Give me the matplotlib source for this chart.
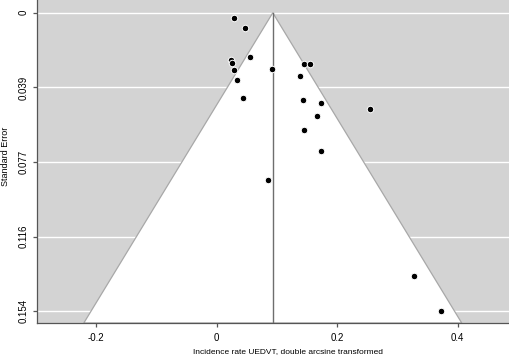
import matplotlib
matplotlib.use("Agg")
import matplotlib.pyplot as plt
import numpy as np

# Data
estimate = 0.0933
yi = [0.0296, 0.0478, 0.0551, 0.0241, 0.0257, 0.0296, 0.0346, 0.0440,
      0.0927, 0.1452, 0.1547, 0.1390, 0.1430, 0.1735, 0.1668, 0.1452,
      0.1730, 0.2553, 0.0860, 0.3283, 0.3726]
sei = [0.0029, 0.0081, 0.0227, 0.0246, 0.0258, 0.0296, 0.0346, 0.0440,
       0.0292, 0.0263, 0.0263, 0.0327, 0.0452, 0.0463, 0.0530, 0.0602,
       0.0714, 0.0494, 0.0860, 0.1358, 0.1538]
xticks = [-0.2, 0, 0.2, 0.4]
xticklabels = ["-0.2", "0", "0.2", "0.4"]
yticks = [0, 0.0385, 0.077, 0.1155, 0.154]
yticklabels = ["0", "0.039", "0.077", "0.116", "0.154"]

plt.rcParams['font.family'] = ['Liberation Sans', 'DejaVu Sans']

W, H = 510, 356
fig = plt.figure(figsize=(W / 100, H / 100), dpi=100)
left, right, top, bottom = 37, 510, 0, 323
ax = fig.add_axes([left / W, (H - bottom) / H, (right - left) / W, (bottom - top) / H])

xlim = (-0.298, 0.487)
ylim = (0.160, -0.0066)
ax.set_xlim(*xlim)
ax.set_ylim(*ylim)

ax.set_facecolor('#d3d3d3')
for yt in yticks:
    ax.axhline(yt, color='white', lw=1.0, zorder=1)

# funnel
ymax = ylim[0]
poly_x = [estimate - 1.96 * ymax, estimate, estimate + 1.96 * ymax]
poly_y = [ymax, 0, ymax]
ax.fill(poly_x, poly_y, facecolor='white', edgecolor='#a8a8a8', lw=0.9, zorder=2)
ax.plot([estimate, estimate], [0, ymax], color='#6e6e6e', lw=1.0, zorder=3)

ax.scatter(yi, sei, s=22, c='black', edgecolors='white', linewidths=0.7, zorder=4)

for s in ['top', 'right']:
    ax.spines[s].set_visible(False)
for s in ['left', 'bottom']:
    ax.spines[s].set_color('#555555')
    ax.spines[s].set_linewidth(0.9)

ax.set_xticks(xticks)
ax.set_xticklabels(xticklabels)
ax.set_yticks(yticks)
ax.set_yticklabels(yticklabels, rotation=90, va='center')
ax.tick_params(axis='both', length=3, width=0.9, color='#555555', labelsize=7)
ax.tick_params(axis='x', pad=4)
ax.tick_params(axis='y', pad=3)

fig.text(288 / W, 1 - 352 / H, "Incidence rate UEDVT, double arcsine transformed",
         ha='center', va='center', fontsize=6)
fig.text(6 / W, 1 - 156 / H, "Standard Error", ha='center', va='center',
         rotation=90, fontsize=6.5)

fig.savefig("out.png", dpi=100)
